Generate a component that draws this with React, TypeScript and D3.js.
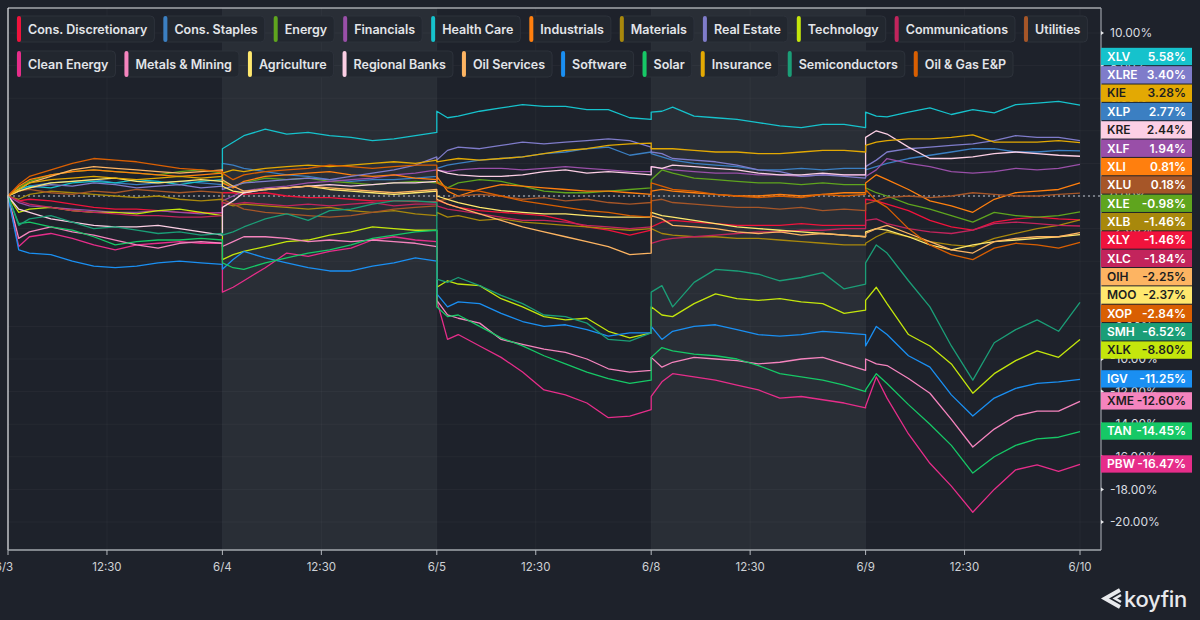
import { useEffect, useRef } from "react";
import * as d3 from "d3";

// sample points inside each 9:30-16:00 session (fraction of the session)
const SESSION_FRACS = [0, 0.05, 0.1, 0.2, 0.3, 0.4, 0.5, 0.6, 0.7, 0.8, 0.9, 1];
const DAY_LABELS = ["6/3", "6/4", "6/5", "6/8", "6/9", "6/10"];
const MIDDAY_LABEL = "12:30";
const MIDDAY_FRAC = 180 / 390;
const Y_TICKS = [10, 8, 6, 4, 2, 0, -2, -4, -6, -8, -10, -12, -14, -16, -18, -20];

// legend order
const TICKERS = [
  "XLY", "XLP", "XLE", "XLF", "XLV", "XLI", "XLB", "XLRE", "XLK", "XLC", "XLU",
  "PBW", "XME", "MOO", "KRE", "OIH", "IGV", "TAN", "KIE", "SMH", "XOP",
];
const NAMES = [
  "Cons. Discretionary", "Cons. Staples", "Energy", "Financials", "Health Care", "Industrials",
  "Materials", "Real Estate", "Technology", "Communications", "Utilities",
  "Clean Energy", "Metals & Mining", "Agriculture", "Regional Banks", "Oil Services",
  "Software", "Solar", "Insurance", "Semiconductors", "Oil & Gas E&P",
];

// % change since 6/3 open, one row per session
const XLY = [
  [0, -0.3, -0.2, -0.3, -0.5, -0.7, -0.8, -0.8, -0.9, -1.0, -1.0, -1.05],
  [0.2, 0.2, 0.1, 0.2, 0.0, -0.1, -0.1, -0.2, -0.3, -0.3, -0.35, -0.35],
  [-0.25, -0.5, -0.7, -0.9, -1.0, -1.1, -1.2, -1.5, -1.9, -2.1, -2.4, -2.1],
  [-1.9, -1.6, -1.5, -1.6, -1.7, -1.8, -1.8, -1.8, -1.7, -1.8, -1.8, -1.8],
  [-0.2, -0.3, -0.5, -0.9, -1.5, -1.9, -2.1, -1.6, -1.4, -1.3, -1.4, -1.46],
];
const XLP = [
  [0, 0.4, 0.6, 0.8, 0.9, 1.0, 0.8, 0.7, 0.8, 0.9, 0.8, 0.7],
  [2.0, 1.9, 1.7, 1.5, 1.3, 1.2, 1.0, 0.9, 1.0, 1.0, 1.1, 1.2],
  [1.7, 1.9, 2.0, 2.2, 2.3, 2.4, 2.6, 2.7, 2.9, 3.0, 2.5, 2.7],
  [2.6, 2.4, 2.2, 2.0, 1.9, 1.8, 1.6, 1.6, 1.7, 1.6, 1.7, 1.7],
  [1.6, 1.8, 2.0, 2.3, 2.5, 2.7, 2.9, 2.9, 2.7, 2.7, 2.8, 2.77],
];
const XLE = [
  [0, 0.5, 0.9, 1.3, 1.5, 1.6, 1.5, 1.4, 1.3, 1.5, 1.6, 1.4],
  [0.9, 0.6, 0.8, 1.1, 1.0, 1.1, 0.9, 0.8, 0.7, 0.8, 0.9, 0.8],
  [0.9, 0.5, 0.8, 1.0, 0.9, 0.6, 0.3, 0.2, 0.2, 0.3, 0.4, 0.5],
  [1.0, 1.6, 1.4, 1.1, 1.0, 0.9, 0.8, 0.8, 0.7, 0.8, 0.7, 0.7],
  [0.5, 0.2, 0.0, -0.5, -0.8, -1.2, -1.6, -1.0, -1.2, -1.3, -1.2, -0.98],
];
const XLF = [
  [0, -0.4, -0.6, -0.7, -0.8, -0.9, -1.0, -1.0, -0.9, -1.0, -1.1, -1.0],
  [-0.3, 0.0, 0.3, 0.5, 0.6, 0.8, 0.9, 1.0, 1.1, 1.3, 1.4, 1.6],
  [1.6, 1.5, 1.6, 1.7, 1.7, 1.6, 1.7, 1.8, 1.7, 1.6, 1.5, 1.5],
  [1.8, 1.7, 1.6, 1.5, 1.4, 1.4, 1.3, 1.3, 1.2, 1.3, 1.3, 1.3],
  [1.2, 1.6, 2.3, 2.0, 1.8, 1.5, 1.4, 1.5, 1.7, 1.6, 1.7, 1.94],
];
const XLV = [
  [0, 0.4, 0.6, 0.5, 0.8, 0.9, 0.8, 1.0, 0.9, 0.7, 0.9, 1.0],
  [2.9, 3.3, 3.7, 4.1, 3.8, 3.9, 3.7, 3.6, 3.4, 3.5, 3.7, 3.9],
  [5.2, 4.8, 4.9, 5.2, 5.4, 5.6, 5.5, 5.5, 5.3, 5.3, 4.8, 4.7],
  [5.15, 5.2, 5.45, 4.9, 4.8, 4.7, 4.5, 4.3, 4.2, 4.4, 4.4, 4.2],
  [5.15, 4.9, 4.85, 5.15, 5.4, 5.0, 5.3, 5.1, 5.6, 5.7, 5.8, 5.58],
];
const XLI = [
  [0, 0.6, 1.0, 1.3, 1.5, 1.6, 1.5, 1.4, 1.3, 1.2, 1.3, 1.4],
  [0.8, 0.5, 0.9, 1.2, 1.3, 1.4, 1.5, 1.3, 1.2, 1.3, 1.1, 1.0],
  [1.2, 0.3, 0.0, 0.4, 0.7, 0.6, 0.5, 0.4, 0.3, 0.3, 0.2, 0.1],
  [0.3, 0.4, 0.3, 0.2, 0.1, 0.0, 0.0, 0.1, 0.0, 0.1, 0.2, 0.2],
  [0.8, 1.3, 1.0, 0.4, -0.3, -0.6, -1.0, -0.2, 0.2, 0.3, 0.4, 0.81],
];
const XLB = [
  [0, -0.2, 0.1, 0.3, 0.2, 0.1, 0.0, -0.1, 0.0, -0.2, -0.3, -0.2],
  [-0.4, -0.6, -0.5, -0.6, -0.7, -0.8, -0.7, -0.9, -1.0, -0.9, -1.1, -1.2],
  [-1.0, -1.3, -1.2, -1.5, -1.4, -1.6, -1.7, -1.8, -1.9, -2.0, -2.1, -2.0],
  [-2.0, -2.3, -2.4, -2.5, -2.5, -2.6, -2.6, -2.7, -2.8, -2.9, -3.0, -3.0],
  [-2.9, -2.5, -2.2, -2.5, -2.8, -3.0, -3.1, -2.6, -2.3, -2.0, -1.8, -1.46],
];
const XLRE = [
  [0, 0.3, 0.5, 0.7, 0.6, 0.8, 0.7, 0.5, 0.6, 0.7, 0.5, 0.6],
  [0.4, 0.6, 0.8, 0.9, 1.0, 1.1, 1.0, 1.2, 1.4, 1.6, 1.9, 2.4],
  [2.2, 2.8, 3.0, 2.9, 3.1, 3.3, 3.2, 3.3, 3.4, 3.5, 3.4, 3.0],
  [2.7, 2.6, 2.3, 2.2, 2.1, 1.9, 1.6, 1.5, 1.2, 1.3, 1.2, 1.1],
  [1.8, 2.2, 2.7, 2.9, 3.0, 3.1, 3.2, 3.4, 3.7, 3.6, 3.6, 3.4],
];
const XLK = [
  [0, -1.0, -0.8, -0.7, -0.9, -1.0, -1.0, -1.1, -0.9, -0.8, -1.0, -1.2],
  [-3.9, -3.6, -3.4, -3.1, -2.8, -2.7, -2.4, -2.2, -1.9, -2.0, -2.1, -2.1],
  [-5.6, -5.2, -5.4, -5.5, -6.3, -6.8, -7.4, -7.6, -7.5, -8.3, -8.7, -8.4],
  [-6.8, -7.3, -7.4, -6.6, -6.0, -6.3, -6.4, -6.3, -6.5, -6.6, -7.2, -7.0],
  [-6.4, -5.6, -6.6, -8.5, -9.2, -10.3, -12.1, -10.9, -10.1, -9.5, -9.9, -8.8],
];
const XLC = [
  [0, -0.3, -0.5, -0.7, -0.9, -1.0, -1.1, -1.2, -1.2, -1.3, -1.3, -1.2],
  [-0.4, -0.5, -0.4, -0.5, -0.6, -0.5, -0.6, -0.5, -0.4, -0.6, -0.5, -0.5],
  [-0.6, -0.8, -0.9, -1.1, -1.3, -1.5, -1.5, -1.6, -1.8, -1.9, -2.0, -1.9],
  [-2.9, -2.7, -2.6, -2.5, -2.4, -2.3, -2.2, -2.2, -2.1, -2.1, -2.0, -2.0],
  [-1.5, -1.4, -1.7, -2.0, -2.2, -2.3, -2.1, -1.7, -1.6, -1.7, -1.8, -1.84],
];
const XLU = [
  [0, 0.3, 0.4, 0.2, 0.1, 0.3, 0.2, 0.4, 0.3, 0.2, 0.3, 0.2],
  [-0.2, -0.5, -0.8, -1.0, -1.1, -1.2, -1.3, -1.2, -1.0, -0.8, -0.7, -0.6],
  [-0.3, -0.2, 0.0, 0.1, 0.0, -0.2, -0.1, -0.3, -0.2, -0.4, -0.5, -0.4],
  [-0.3, -0.2, -0.4, -0.5, -0.6, -0.7, -0.7, -0.8, -0.7, -0.9, -0.8, -0.9],
  [-0.5, -0.3, -0.1, 0.0, -0.1, 0.0, 0.2, 0.1, 0.0, 0.0, 0.1, 0.18],
];
const PBW = [
  [0, -3.1, -2.5, -2.3, -2.6, -3.0, -3.3, -3.0, -2.9, -2.8, -2.9, -2.9],
  [-5.9, -5.6, -5.2, -4.4, -3.5, -3.7, -3.4, -3.2, -2.7, -2.5, -2.7, -2.8],
  [-6.4, -8.8, -8.5, -9.2, -9.9, -10.8, -11.9, -12.2, -12.7, -13.6, -13.5, -13.1],
  [-12.3, -11.4, -10.9, -11.1, -11.3, -11.6, -11.9, -12.4, -12.3, -12.5, -12.7, -13.0],
  [-12.9, -11.1, -12.4, -14.6, -16.4, -17.8, -19.4, -18.0, -16.8, -16.5, -16.9, -16.47],
];
const XME = [
  [0, -2.6, -2.2, -1.9, -2.2, -2.4, -2.7, -3.0, -3.2, -2.9, -2.8, -2.9],
  [-3.1, -2.8, -2.5, -2.5, -2.6, -2.8, -2.7, -2.8, -2.7, -2.8, -2.9, -3.1],
  [-6.4, -7.3, -7.5, -7.8, -8.8, -9.1, -9.4, -9.6, -10.0, -10.6, -10.8, -10.7],
  [-9.9, -10.5, -10.2, -9.9, -10.0, -10.1, -10.3, -10.2, -10.0, -9.9, -10.3, -10.7],
  [-10.0, -10.3, -10.4, -11.2, -12.1, -13.7, -15.4, -14.3, -13.5, -13.2, -13.2, -12.6],
];
const MOO = [
  [0, 0.3, 0.5, 0.8, 0.9, 1.0, 1.1, 0.9, 0.8, 0.9, 1.0, 0.9],
  [0.6, 0.3, 0.2, 0.4, 0.5, 0.6, 0.4, 0.3, 0.2, 0.1, 0.2, 0.3],
  [0.0, -0.2, -0.4, -0.7, -0.9, -1.0, -1.1, -1.1, -1.2, -1.3, -1.3, -1.3],
  [-1.0, -1.2, -1.3, -1.5, -1.7, -1.9, -2.0, -2.1, -2.2, -2.3, -2.4, -2.5],
  [-2.2, -2.0, -2.1, -2.5, -3.0, -3.3, -3.0, -2.8, -2.7, -2.6, -2.5, -2.37],
];
const KRE = [
  [0, -0.8, -1.0, -1.4, -1.6, -1.8, -1.9, -1.9, -1.8, -2.0, -2.2, -2.4],
  [-0.7, -0.3, 0.2, 0.4, 0.5, 0.6, 0.7, 0.6, 0.7, 0.8, 0.8, 0.9],
  [1.6, 1.4, 1.3, 1.2, 1.2, 1.3, 1.5, 1.6, 1.4, 1.5, 1.4, 1.3],
  [1.8, 1.7, 1.9, 1.8, 1.7, 1.6, 1.4, 1.3, 1.3, 1.4, 1.3, 1.3],
  [3.6, 4.0, 3.8, 3.0, 2.3, 2.3, 2.4, 2.6, 2.7, 2.6, 2.5, 2.44],
];
const OIH = [
  [0, 0.4, 0.8, 1.2, 1.6, 1.8, 1.7, 1.6, 1.5, 1.4, 1.5, 1.6],
  [1.0, 0.6, 0.3, 0.4, 0.5, 0.6, 0.5, 0.4, 0.3, 0.2, 0.3, 0.4],
  [-0.2, -0.5, -0.7, -1.1, -1.5, -1.9, -2.2, -2.5, -2.8, -3.1, -3.6, -3.5],
  [-1.2, -1.4, -1.8, -1.9, -2.0, -2.2, -2.3, -2.2, -2.4, -2.3, -2.4, -2.5],
  [-2.3, -2.0, -1.8, -2.3, -2.8, -3.3, -3.5, -2.8, -2.6, -2.5, -2.5, -2.25],
];
const IGV = [
  [0, -3.3, -3.5, -3.6, -4.0, -4.3, -4.4, -4.3, -4.1, -4.0, -4.1, -4.2],
  [-4.5, -3.9, -3.4, -3.8, -4.1, -4.4, -4.6, -4.6, -4.3, -4.1, -3.8, -4.0],
  [-6.0, -6.8, -6.5, -6.6, -7.2, -7.7, -8.0, -7.9, -8.2, -8.6, -8.4, -8.4],
  [-8.0, -8.8, -8.3, -8.0, -7.9, -8.2, -8.5, -8.6, -8.5, -8.3, -8.4, -8.5],
  [-9.2, -8.0, -8.5, -9.8, -10.5, -12.2, -13.5, -12.4, -11.8, -11.5, -11.4, -11.25],
];
const TAN = [
  [0, -1.7, -1.6, -1.9, -2.1, -2.5, -3.0, -2.8, -2.7, -2.7, -2.6, -2.7],
  [-4.1, -4.4, -4.5, -4.1, -3.8, -3.5, -3.3, -3.0, -2.6, -2.4, -2.2, -2.1],
  [-6.8, -7.4, -7.3, -8.0, -8.7, -9.2, -9.8, -10.3, -10.8, -11.2, -11.5, -11.3],
  [-9.9, -9.3, -9.5, -9.7, -9.8, -10.0, -10.4, -10.9, -11.1, -11.3, -11.6, -12.0],
  [-11.9, -10.9, -11.5, -12.8, -14.0, -15.3, -17.0, -16.0, -15.3, -14.9, -14.8, -14.45],
];
const KIE = [
  [0, 0.4, 0.8, 1.0, 1.1, 1.2, 1.1, 1.0, 1.1, 1.2, 1.1, 1.2],
  [1.4, 1.6, 1.5, 1.7, 1.8, 1.9, 1.8, 1.9, 2.0, 2.1, 2.0, 2.2],
  [2.1, 2.2, 2.3, 2.2, 2.3, 2.4, 2.6, 2.8, 2.9, 3.1, 3.2, 3.25],
  [2.9, 2.9, 2.9, 2.8, 2.7, 2.7, 2.6, 2.6, 2.7, 2.8, 2.8, 2.7],
  [3.1, 3.3, 3.4, 3.5, 3.5, 3.6, 3.75, 3.3, 3.3, 3.3, 3.4, 3.28],
];
const SMH = [
  [0, -1.8, -1.4, -1.2, -1.6, -2.0, -1.9, -2.1, -2.3, -2.2, -2.4, -2.3],
  [-2.4, -2.2, -1.9, -1.4, -1.1, -1.5, -0.9, -0.8, -0.5, -0.3, -0.3, -0.4],
  [-5.1, -5.3, -5.0, -5.5, -6.1, -6.6, -7.3, -7.4, -7.8, -8.8, -8.9, -8.4],
  [-5.9, -5.5, -6.8, -5.3, -4.5, -4.6, -4.8, -5.2, -5.0, -4.7, -5.7, -5.4],
  [-4.1, -3.0, -3.5, -5.2, -6.8, -9.2, -11.3, -9.0, -8.2, -7.6, -8.3, -6.52],
];
const XOP = [
  [0, 0.7, 1.2, 1.6, 2.0, 2.3, 2.2, 2.1, 1.9, 1.7, 1.6, 1.5],
  [1.4, 1.0, 1.3, 1.5, 1.6, 1.7, 1.9, 1.8, 1.7, 1.8, 1.9, 1.9],
  [0.8, 0.5, 0.4, 0.3, 0.0, -0.3, -0.5, -0.7, -0.9, -1.0, -1.2, -1.3],
  [0.8, 0.6, 0.4, 0.3, 0.1, 0.0, -0.1, 0.0, -0.1, 0.1, 0.0, 0.1],
  [0.4, -0.3, -0.7, -2.0, -3.0, -3.6, -3.9, -3.2, -2.9, -3.0, -3.2, -2.84],
];

const SERIES_VALUES: Record<string, number[][]> = {
  XLY, XLP, XLE, XLF, XLV, XLI, XLB, XLRE, XLK, XLC, XLU,
  PBW, XME, MOO, KRE, OIH, IGV, TAN, KIE, SMH, XOP,
};

const COLORS: Record<string, string> = {
  XLY: "#f0133c", XLP: "#3b7fc2", XLE: "#5fa51e", XLF: "#994fa8", XLV: "#16c2cc",
  XLI: "#ff7f0e", XLB: "#a8880c", XLRE: "#7f7cca", XLK: "#c4e60c", XLC: "#c2245c",
  XLU: "#a65628", PBW: "#e62d8a", XME: "#f584be", MOO: "#ffe86e", KRE: "#fccfe5",
  OIH: "#fdb462", IGV: "#1a8ff2", TAN: "#16c866", KIE: "#e3a903", SMH: "#1b9e77",
  XOP: "#d95f02",
};
const DARK_TEXT = ["KIE", "KRE", "OIH", "MOO", "XLK", "XME"];

const BG = "#1e222b";
const BAND = "#292e36";
const FONT = "Inter, 'Noto Sans', sans-serif";

export default function App() {
  const svgRef = useRef<SVGSVGElement | null>(null);

  useEffect(() => {
    if (!svgRef.current) return;
    const svg = d3.select(svgRef.current);
    svg.selectAll("*").remove();

    const width = 1200;
    const height = 620;
    const plot = { left: 8, top: 8, right: 1101, bottom: 550 };

    const xScale = d3.scaleLinear().domain([0, 5]).range([8, 1080]);
    const yScale = d3.scaleLinear().domain([-20, 10]).range([522, 33]);

    svg.append("rect").attr("width", width).attr("height", height).attr("fill", BG);

    // lighter background on alternate sessions
    [1, 3].forEach((d) => {
      svg
        .append("rect")
        .attr("x", xScale(d))
        .attr("y", plot.top)
        .attr("width", xScale(d + 1) - xScale(d))
        .attr("height", plot.bottom - plot.top)
        .attr("fill", BAND);
    });

    // x ticks
    const xTicks: { v: number; label: string }[] = [];
    DAY_LABELS.forEach((lab, d) => {
      xTicks.push({ v: d, label: lab });
      if (d < 5) xTicks.push({ v: d + MIDDAY_FRAC, label: MIDDAY_LABEL });
    });

    // grid
    const grid = svg.append("g");
    Y_TICKS.forEach((t) => {
      grid
        .append("line")
        .attr("x1", plot.left)
        .attr("x2", plot.right)
        .attr("y1", yScale(t))
        .attr("y2", yScale(t))
        .attr("stroke", "#ffffff")
        .attr("stroke-opacity", 0.035);
    });
    xTicks.forEach((t) => {
      grid
        .append("line")
        .attr("x1", xScale(t.v))
        .attr("x2", xScale(t.v))
        .attr("y1", plot.top)
        .attr("y2", plot.bottom)
        .attr("stroke", "#ffffff")
        .attr("stroke-opacity", 0.035);
    });

    // zero line
    svg
      .append("line")
      .attr("x1", plot.left)
      .attr("x2", plot.right)
      .attr("y1", yScale(0))
      .attr("y2", yScale(0))
      .attr("stroke", "#8d939c")
      .attr("stroke-width", 1.3)
      .attr("stroke-dasharray", "2,3");

    // series lines
    const line = d3
      .line<[number, number]>()
      .x((p) => xScale(p[0]))
      .y((p) => yScale(p[1]));

    TICKERS.forEach((t) => {
      const pts: [number, number][] = [];
      SERIES_VALUES[t].forEach((day, d) => {
        day.forEach((v, i) => pts.push([d + SESSION_FRACS[i], v]));
      });
      svg
        .append("path")
        .attr("d", line(pts))
        .attr("fill", "none")
        .attr("stroke", COLORS[t])
        .attr("stroke-width", 1.3)
        .attr("stroke-linejoin", "round");
    });

    // frame
    svg
      .append("line")
      .attr("x1", plot.left).attr("x2", plot.right)
      .attr("y1", plot.top).attr("y2", plot.top)
      .attr("stroke", "#e8eaed").attr("stroke-width", 1.2);
    svg
      .append("line")
      .attr("x1", plot.left).attr("x2", plot.left)
      .attr("y1", plot.top).attr("y2", plot.bottom)
      .attr("stroke", "#e8eaed").attr("stroke-width", 1.2);
    svg
      .append("line")
      .attr("x1", plot.right).attr("x2", plot.right)
      .attr("y1", plot.top).attr("y2", plot.bottom)
      .attr("stroke", "#9ca1a8").attr("stroke-width", 1.2);
    svg
      .append("line")
      .attr("x1", plot.left).attr("x2", plot.right)
      .attr("y1", plot.bottom).attr("y2", plot.bottom)
      .attr("stroke", "#a3a8ae").attr("stroke-width", 1.6);

    // x axis ticks + labels
    const xAxis = svg.append("g");
    xTicks.forEach((t) => {
      xAxis
        .append("line")
        .attr("x1", xScale(t.v)).attr("x2", xScale(t.v))
        .attr("y1", plot.bottom).attr("y2", plot.bottom + 5)
        .attr("stroke", "#b4b8be");
      xAxis
        .append("text")
        .attr("x", t.v === 0 ? xScale(t.v) - 4 : xScale(t.v))
        .attr("y", 571)
        .attr("text-anchor", "middle")
        .attr("fill", "#cfd2d6")
        .style("font-family", FONT)
        .style("font-size", "11.5px")
        .text(t.label);
    });

    // y axis ticks + labels
    const yAxis = svg.append("g");
    Y_TICKS.forEach((t) => {
      yAxis
        .append("path")
        .attr("d", `M${plot.right},${yScale(t) - 2}L${plot.right + 3},${yScale(t)}L${plot.right},${yScale(t) + 2}Z`)
        .attr("fill", "#e6e8eb");
      yAxis
        .append("text")
        .attr("x", plot.right + 9)
        .attr("y", yScale(t))
        .attr("dy", "0.35em")
        .attr("fill", "#d9dce0")
        .style("font-family", FONT)
        .style("font-size", "12px")
        .text(`${t.toFixed(2)}%`);
    });

    // value badges on the right, stacked to avoid overlap
    const rowH = 18.35;
    const items = TICKERS.map((t) => {
      const days = SERIES_VALUES[t];
      const v = days[days.length - 1][days[days.length - 1].length - 1];
      return { t, v, target: yScale(v) };
    }).sort((a, b) => b.v - a.v || a.t.localeCompare(b.t));

    let clusters = items.map((it) => ({ items: [it], top: it.target - rowH / 2 }));
    let moved = true;
    while (moved) {
      moved = false;
      for (let i = 1; i < clusters.length; i++) {
        const a = clusters[i - 1];
        const b = clusters[i];
        if (a.top + a.items.length * rowH > b.top + 0.01) {
          const merged = [...a.items, ...b.items];
          const mean = d3.mean(merged, (m) => m.target) as number;
          clusters.splice(i - 1, 2, { items: merged, top: mean - (merged.length * rowH) / 2 });
          moved = true;
          break;
        }
      }
    }

    const badges = svg.append("g");
    clusters.forEach((c) => {
      c.items.forEach((it, k) => {
        const top = c.top + k * rowH;
        const g = badges.append("g").attr("transform", `translate(${plot.right},${top})`);
        g.append("rect")
          .attr("width", 91)
          .attr("height", rowH - 1)
          .attr("fill", COLORS[it.t]);
        const txtColor = DARK_TEXT.includes(it.t) ? "#1c1d20" : "#ffffff";
        g.append("text")
          .attr("x", 6)
          .attr("y", (rowH - 1) / 2)
          .attr("dy", "0.36em")
          .attr("fill", txtColor)
          .style("font-family", FONT)
          .style("font-size", "12px")
          .style("font-weight", 600)
          .text(it.t);
        g.append("text")
          .attr("x", 85)
          .attr("y", (rowH - 1) / 2)
          .attr("dy", "0.36em")
          .attr("text-anchor", "end")
          .attr("fill", txtColor)
          .style("font-family", FONT)
          .style("font-size", "12px")
          .style("font-weight", 600)
          .text(`${it.v.toFixed(2)}%`);
      });
    });

    // legend chips
    const legend = svg.append("g");
    const rows = [TICKERS.slice(0, 11), TICKERS.slice(11)];
    const rowTops = [16, 51];
    rows.forEach((row, r) => {
      let cx = 17;
      row.forEach((t) => {
        const name = NAMES[TICKERS.indexOf(t)];
        const g = legend.append("g").attr("transform", `translate(${cx},${rowTops[r]})`);
        const box = g
          .append("rect")
          .attr("height", 26)
          .attr("rx", 4)
          .attr("fill", "#22272f")
          .attr("stroke", "#2d323b")
          .attr("stroke-width", 1);
        g.append("rect")
          .attr("width", 4)
          .attr("height", 26)
          .attr("rx", 2)
          .attr("fill", COLORS[t]);
        const txt = g
          .append("text")
          .attr("x", 11)
          .attr("y", 13)
          .attr("dy", "0.36em")
          .attr("fill", "#e3e5e9")
          .style("font-family", FONT)
          .style("font-size", "12.5px")
          .style("font-weight", 600)
          .text(name);
        const w = (txt.node() as SVGTextElement).getComputedTextLength();
        const boxW = 11 + w + 7;
        box.attr("width", boxW);
        cx += boxW + 9;
      });
    });

    // koyfin mark
    const logo = svg.append("g");
    logo
      .append("path")
      .attr("d", "M1120,590 L1105,598.5 L1120,607")
      .attr("fill", "none")
      .attr("stroke", "#e8e9ec")
      .attr("stroke-width", 4)
      .attr("stroke-linejoin", "miter");
    logo
      .append("path")
      .attr("d", "M1121,595 L1115,598.5 L1121,602")
      .attr("fill", "none")
      .attr("stroke", "#e8e9ec")
      .attr("stroke-width", 2.6);
    logo
      .append("text")
      .attr("x", 1124)
      .attr("y", 607)
      .attr("fill", "#e8e9ec")
      .style("font-family", FONT)
      .style("font-size", "22px")
      .style("font-weight", 500)
      .style("letter-spacing", "-0.3px")
      .text("koyfin");
  }, []);

  return (
    <div style={{ position: "absolute", left: 0, top: 0 }}>
      <svg ref={svgRef} width={1200} height={620} style={{ display: "block" }}></svg>
    </div>
  );
}
